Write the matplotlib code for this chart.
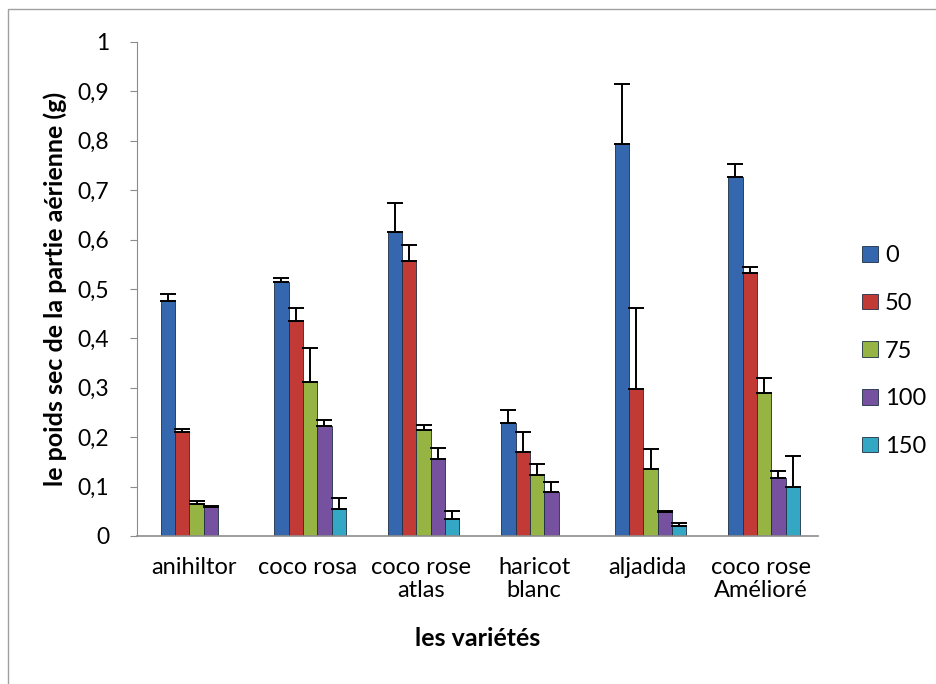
import matplotlib
matplotlib.use("Agg")
import matplotlib.pyplot as plt
import numpy as np
from matplotlib.patches import Rectangle

plt.rcParams['font.family'] = ['Lato', 'DejaVu Sans']

categories = ["anihiltor", "coco rosa", "coco rose\natlas", "haricot\nblanc", "aljadida", "coco rose\nAmélioré"]
series_names = ["0", "50", "75", "100", "150"]
values = {
    "0":   [0.476, 0.515, 0.615, 0.228, 0.793, 0.727],
    "50":  [0.210, 0.435, 0.557, 0.170, 0.297, 0.532],
    "75":  [0.065, 0.312, 0.215, 0.123, 0.136, 0.289],
    "100": [0.059, 0.223, 0.156, 0.089, 0.049, 0.117],
    "150": [0.000, 0.055, 0.034, 0.000, 0.020, 0.099],
}
errors = {
    "0":   [0.014, 0.008, 0.059, 0.027, 0.122, 0.026],
    "50":  [0.007, 0.027, 0.032, 0.040, 0.165, 0.013],
    "75":  [0.006, 0.069, 0.010, 0.023, 0.040, 0.031],
    "100": [0.002, 0.012, 0.022, 0.020, 0.002, 0.015],
    "150": [0.000, 0.022, 0.017, 0.000, 0.006, 0.063],
}
colors = ["#3567AE", "#C23A35", "#95B443", "#7651A0", "#33A7C4"]
yticks = [0, 0.1, 0.2, 0.3, 0.4, 0.5, 0.6, 0.7, 0.8, 0.9, 1]
ytick_labels = ["0", "0,1", "0,2", "0,3", "0,4", "0,5", "0,6", "0,7", "0,8", "0,9", "1"]

fig = plt.figure(figsize=(9.37, 6.84), dpi=100)
fig.patches.append(Rectangle((8/937, -0.01), 1.0, 1 - 9/684 + 0.01, transform=fig.transFigure,
                             fill=False, edgecolor="#A0A0A0", linewidth=1.0))
ax = fig.add_axes([137/937, 1 - 536/684, (818 - 137)/937, (536 - 42)/684])

x = np.arange(len(categories))
w = 0.126
for j, name in enumerate(series_names):
    vals = np.array(values[name])
    errs = np.array(errors[name])
    pos = x + (j - 2) * w + 0.025
    ax.bar(pos, vals, width=w, color=colors[j], edgecolor="#1f2f45", linewidth=0.6,
           label=name, zorder=2)
    mask = vals > 0
    ax.errorbar(pos[mask], vals[mask], yerr=[np.zeros(mask.sum()), errs[mask]],
                fmt="none", ecolor="black", elinewidth=1.4, capsize=5.5, capthick=1.4, zorder=3)

ax.set_xlim(-0.5, len(categories) - 0.5)
ax.set_ylim(0, 1)
ax.set_yticks(yticks)
ax.set_yticklabels(ytick_labels, fontsize=16.5)
ax.set_xticks(x)
ax.set_xticklabels(categories, fontsize=17, linespacing=1.15)
ax.tick_params(axis="x", length=0, pad=15)
ax.tick_params(axis="y", length=5, color="#8C8C8C", pad=15)
for s in ["top", "right"]:
    ax.spines[s].set_visible(False)
ax.spines["left"].set_color("#8C8C8C")
ax.spines["bottom"].set_color("#8C8C8C")
ax.spines["bottom"].set_linewidth(1.2)

fig.text(55/937, 1 - 289/684, "le poids sec de la partie aérienne (g)", fontsize=18, fontweight="bold",
         ha="center", va="center", rotation=90)
fig.text(478/937, 1 - 639/684, "les variétés", fontsize=18, fontweight="bold", ha="center", va="center")

leg = ax.legend(loc="center left", bbox_to_anchor=(853/937, 1 - 351/684), bbox_transform=fig.transFigure,
                frameon=False, fontsize=17, handlelength=0.65, handleheight=0.65, handletextpad=0.3,
                labelspacing=1.13, borderaxespad=0)

fig.savefig("out.png", dpi=100)
